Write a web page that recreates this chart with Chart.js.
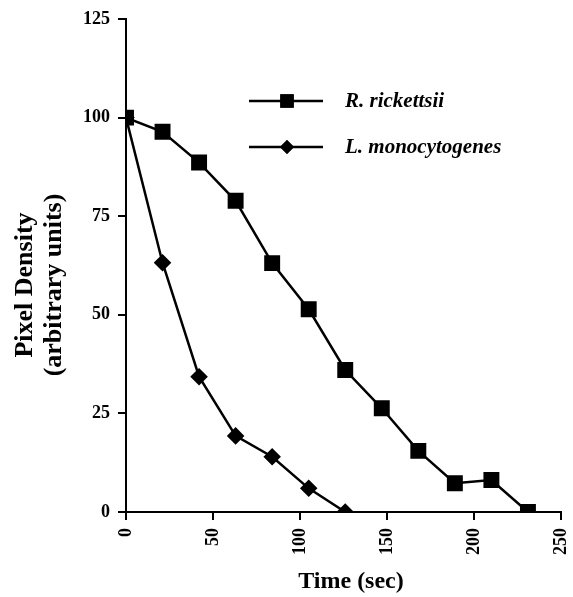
<!DOCTYPE html>
<html>
<head>
<meta charset="utf-8">
<script src="https://cdn.jsdelivr.net/npm/chart.js@4/dist/chart.umd.min.js"></script>
<style>
  html, body { margin: 0; padding: 0; background: #fff; }
  #wrap { width: 573px; height: 597px; }
</style>
</head>
<body>
<div id="wrap"><canvas id="density" width="573" height="597"></canvas></div>
<script>
// values
var rickTime = [0, 21, 42, 63, 84, 105, 126, 147, 168, 189, 210, 231];
var rickValues = [100, 96.4, 88.6, 78.9, 63.1, 51.4, 36.0, 26.3, 15.5, 7.3, 8.1, 0];
var listTime = [0, 21, 42, 63, 84, 105, 126];
var listValues = [100, 63.2, 34.3, 19.3, 14.0, 6.0, 0];
var xTicks = [0, 50, 100, 150, 200, 250];
var yTicks = [0, 25, 50, 75, 100, 125];

var serif = "'Liberation Serif', 'Times New Roman', serif";

function pairs(xs, ys) {
  return xs.map(function (x, i) { return { x: x, y: ys[i] }; });
}

var rick = {
  label: 'R. rickettsii',
  data: pairs(rickTime, rickValues),
  borderColor: '#000',
  backgroundColor: '#000',
  borderWidth: 2.5,
  pointStyle: 'rect',
  pointRadius: 9.5,
  pointHoverRadius: 9.5,
  tension: 0
};

var list = {
  label: 'L. monocytogenes',
  data: pairs(listTime, listValues),
  borderColor: '#000',
  backgroundColor: '#000',
  borderWidth: 2.5,
  pointStyle: 'rectRot',
  pointRadius: 7,
  pointHoverRadius: 7,
  tension: 0
};

// legend + axis titles drawn on the canvas
var extras = {
  id: 'extras',
  afterDraw: function (chart) {
    var ctx = chart.ctx;
    ctx.save();
    ctx.fillStyle = '#000';
    ctx.strokeStyle = '#000';

    // x title
    ctx.font = 'bold 24px ' + serif;
    ctx.textAlign = 'center';
    ctx.textBaseline = 'alphabetic';
    ctx.fillText('Time (sec)', 351, 588);

    // y title, two lines
    ctx.save();
    ctx.translate(0, 285);
    ctx.rotate(-Math.PI / 2);
    ctx.font = 'bold 26px ' + serif;
    ctx.textBaseline = 'middle';
    ctx.fillText('Pixel Density', 0, 25);
    ctx.fillText('(arbitrary units)', 0, 54);
    ctx.restore();

    // legend
    var rows = [
      { ds: chart.data.datasets[0], y: 101 },
      { ds: chart.data.datasets[1], y: 147 }
    ];
    rows.forEach(function (r) {
      ctx.lineWidth = 2.5;
      ctx.beginPath();
      ctx.moveTo(249, r.y);
      ctx.lineTo(323, r.y);
      ctx.stroke();
      Chart.helpers.drawPoint(ctx, {
        pointStyle: r.ds.pointStyle,
        radius: r.ds.pointRadius,
        rotation: 0,
        borderWidth: 0
      }, 287, r.y);
      ctx.fill();
      ctx.font = 'italic bold 21px ' + serif;
      ctx.textAlign = 'left';
      ctx.textBaseline = 'middle';
      ctx.fillText(r.ds.label, 345, r.y + 1);
    });
    ctx.restore();
  }
};

function fixPad(scale) {
  scale.paddingLeft = 0;
  scale.paddingRight = 0;
  scale.paddingTop = 0;
  scale.paddingBottom = 0;
}

var chart = new Chart(document.getElementById('density'), {
  type: 'line',
  data: { datasets: [rick, list] },
  plugins: [extras],
  options: {
    responsive: false,
    animation: false,
    layout: { padding: { left: 0, right: 8, top: 19, bottom: 0 } },
    plugins: { legend: { display: false }, tooltip: { enabled: false } },
    scales: {
      x: {
        type: 'linear',
        min: 0,
        max: 250,
        afterBuildTicks: function (s) { s.ticks = xTicks.map(function (v) { return { value: v }; }); },
        afterFit: function (s) { s.height = 85; fixPad(s); },
        border: { color: '#000', width: 2 },
        grid: { drawOnChartArea: false, drawTicks: true, tickLength: 8, color: '#000', lineWidth: 2 },
        ticks: {
          color: '#000',
          minRotation: 90,
          maxRotation: 90,
          padding: 8,
          font: { family: serif, size: 18, weight: 'bold' }
        }
      },
      y: {
        min: 0,
        max: 125,
        afterBuildTicks: function (s) { s.ticks = yTicks.map(function (v) { return { value: v }; }); },
        afterFit: function (s) { s.width = 126; fixPad(s); },
        border: { color: '#000', width: 2 },
        grid: { drawOnChartArea: false, drawTicks: true, tickLength: 8, color: '#000', lineWidth: 2 },
        ticks: {
          color: '#000',
          padding: 8,
          font: { family: serif, size: 18, weight: 'bold' }
        }
      }
    }
  }
});
</script>
</body>
</html>
